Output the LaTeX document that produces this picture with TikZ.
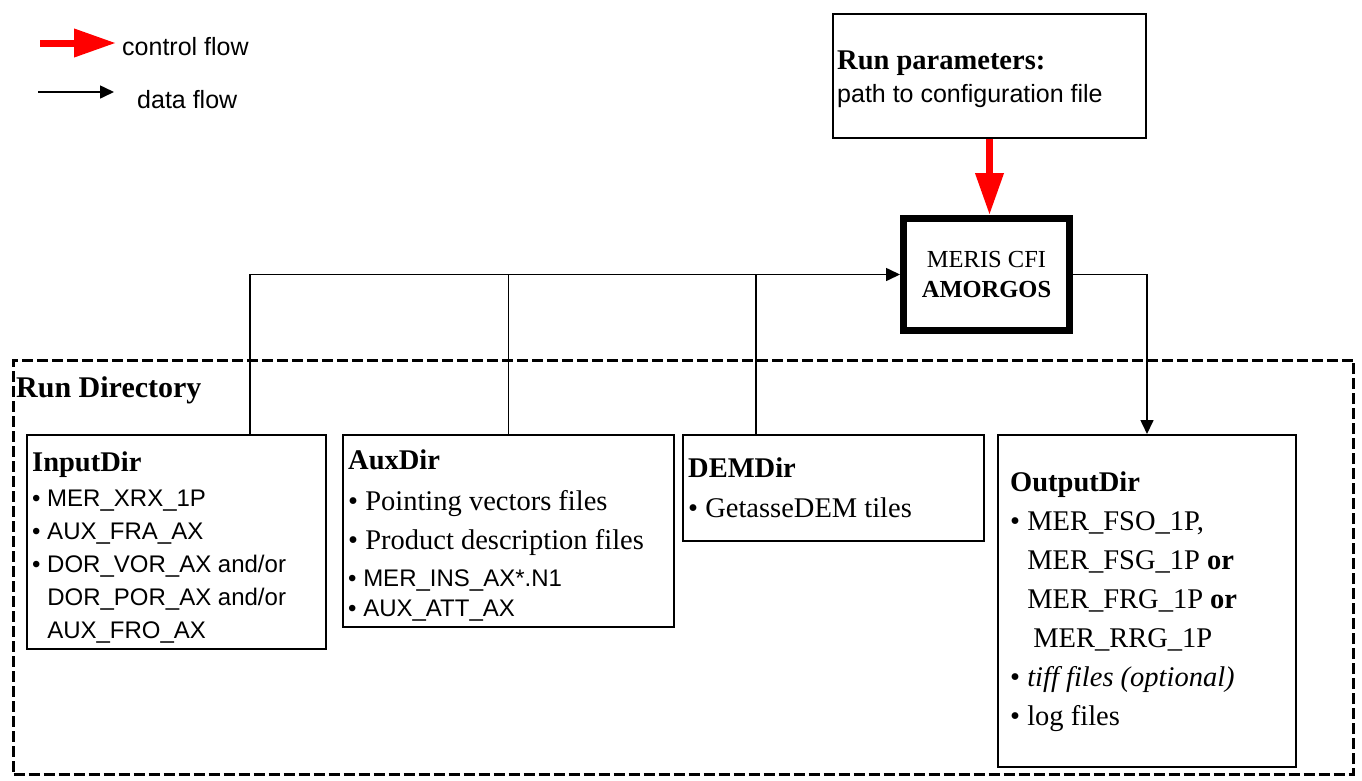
\documentclass[tikz,border=0pt]{standalone}
\usepackage{fontspec}
\setmainfont{Liberation Serif}
\setsansfont{Liberation Sans}
\usetikzlibrary{arrows.meta,calc}

\newcommand{\itm}{\textbullet\ }
\newcommand{\itmgap}{\hphantom{\textbullet\ }}
\newcommand{\sfline}[1]{{\sffamily\fontsize{24}{33}\selectfont #1}}

\begin{document}
\begin{tikzpicture}[x=1pt, y=-1pt,
  every node/.style={font=\fontsize{28.5}{33}\selectfont},
  sflabel/.style={font=\sffamily\fontsize{25}{33}\selectfont},
  dirbox/.style={draw, line width=2pt, anchor=north west, inner sep=0pt},
  dirlist/.style={anchor=north west, inner sep=0pt, align=left},
  datawire/.style={line width=1.6pt},
  dataflow/.style={datawire, -{Triangle[length=14pt,width=13pt]}},
  ctrlflow/.style={draw=red, line width=7pt, -{Triangle[length=42pt,width=27pt]}}]

\useasboundingbox (0,0) rectangle (1362,780);

% =================== legend ===================
\coordinate (ctrlfrom) at (40,43);
\coordinate (ctrlto) at (116,43);
\draw[ctrlflow] (ctrlfrom) -- (ctrlto);
\node[sflabel, anchor=west, inner sep=0pt] (ctrllabel) at (122,47) {control flow};
\coordinate (datafrom) at (38,92);
\coordinate (datato) at (114,92);
\draw[dataflow] (datafrom) -- (datato);
\node[sflabel, anchor=west, inner sep=0pt] (datalabel) at (137,100) {data flow};

% =================== run parameters and AMORGOS ===================
\node[draw, line width=2pt, minimum width=313, minimum height=124, inner sep=0pt] (runpar) at (989.5,76) {};
\node[dirlist] (runtext) at ([shift={(5,38)}]runpar.north west)
  {\textbf{Run parameters:}\\ \sfline{\fontsize{25}{33}\selectfont path to configuration file}};
\node[draw, line width=7pt, minimum width=166, minimum height=112, align=center,
  font=\fontsize{24.5}{30}\selectfont] (amorgos) at (986.5,274.5) {MERIS CFI\\\textbf{AMORGOS}};
\draw[ctrlflow] (runpar.south) -- (runpar.south |- amorgos.north);

% =================== run directory ===================
\node[draw, line width=3pt, dash pattern=on 11pt off 4pt, minimum width=1340, minimum height=414,
  inner sep=0pt] (rundir) at (683.5,567) {};
\node[anchor=base west, inner sep=0pt, font=\fontsize{30}{33}\selectfont] (rundirlabel) at (16,397)
  {\textbf{Run Directory}};

% InputDir
\node[dirbox, minimum width=299, minimum height=214] (inputdir) at (26,434) {};
\node[dirlist] (inputlist) at ([shift={(6,18)}]inputdir.north west)
  {\textbf{InputDir}\\[2pt]
   \sfline{\itm MER\_XRX\_1P}\\
   \sfline{\itm AUX\_FRA\_AX}\\
   \sfline{\itm DOR\_VOR\_AX and/or}\\
   \sfline{\itmgap DOR\_POR\_AX and/or}\\
   \sfline{\itmgap AUX\_FRO\_AX}};

% AuxDir
\node[dirbox, minimum width=331, minimum height=192] (auxdir) at (342,434) {};
\node[dirlist, font=\fontsize{28.5}{30}\selectfont] (auxlist) at ([shift={(6,16)}]auxdir.north west)
  {\textbf{AuxDir}\\[11pt]
   \itm Pointing vectors files\\[9pt]
   \itm Product description files\\[7pt]
   \sfline{\itm MER\_INS\_AX*.N1}\\
   \sfline{\itm AUX\_ATT\_AX}};

% DEMDir
\node[dirbox, minimum width=301, minimum height=106] (demdir) at (682,434) {};
\node[dirlist] (demlist) at ([shift={(6,24)}]demdir.north west)
  {\textbf{DEMDir}\\[7pt]
   \itm GetasseDEM tiles};

% OutputDir
\node[dirbox, minimum width=298, minimum height=332] (outputdir) at (997,434) {};
\node[dirlist, font=\fontsize{28.5}{39}\selectfont] (outputlist) at ([shift={(13,38)}]outputdir.north west)
  {\textbf{OutputDir}\\
   \itm MER\_FSO\_1P,\\
   \itmgap MER\_FSG\_1P \textbf{or}\\
   \itmgap MER\_FRG\_1P \textbf{or}\\
   \itmgap\hspace{6pt}MER\_RRG\_1P\\
   \itm \textit{tiff files (optional)}\\
   \itm log files};

% =================== data flow ===================
\coordinate (injoin) at ($(inputdir.north west)!0.745!(inputdir.north east)$);
\coordinate (demjoin) at ($(demdir.north west)!0.245!(demdir.north east)$);
\draw[dataflow] (injoin) |- (amorgos.west);
\draw[datawire] (auxdir.north) -- (auxdir.north |- amorgos.west);
\draw[datawire] (demjoin) -- (demjoin |- amorgos.west);
\draw[dataflow] (amorgos.east) -| (outputdir.north);

\end{tikzpicture}
\end{document}
